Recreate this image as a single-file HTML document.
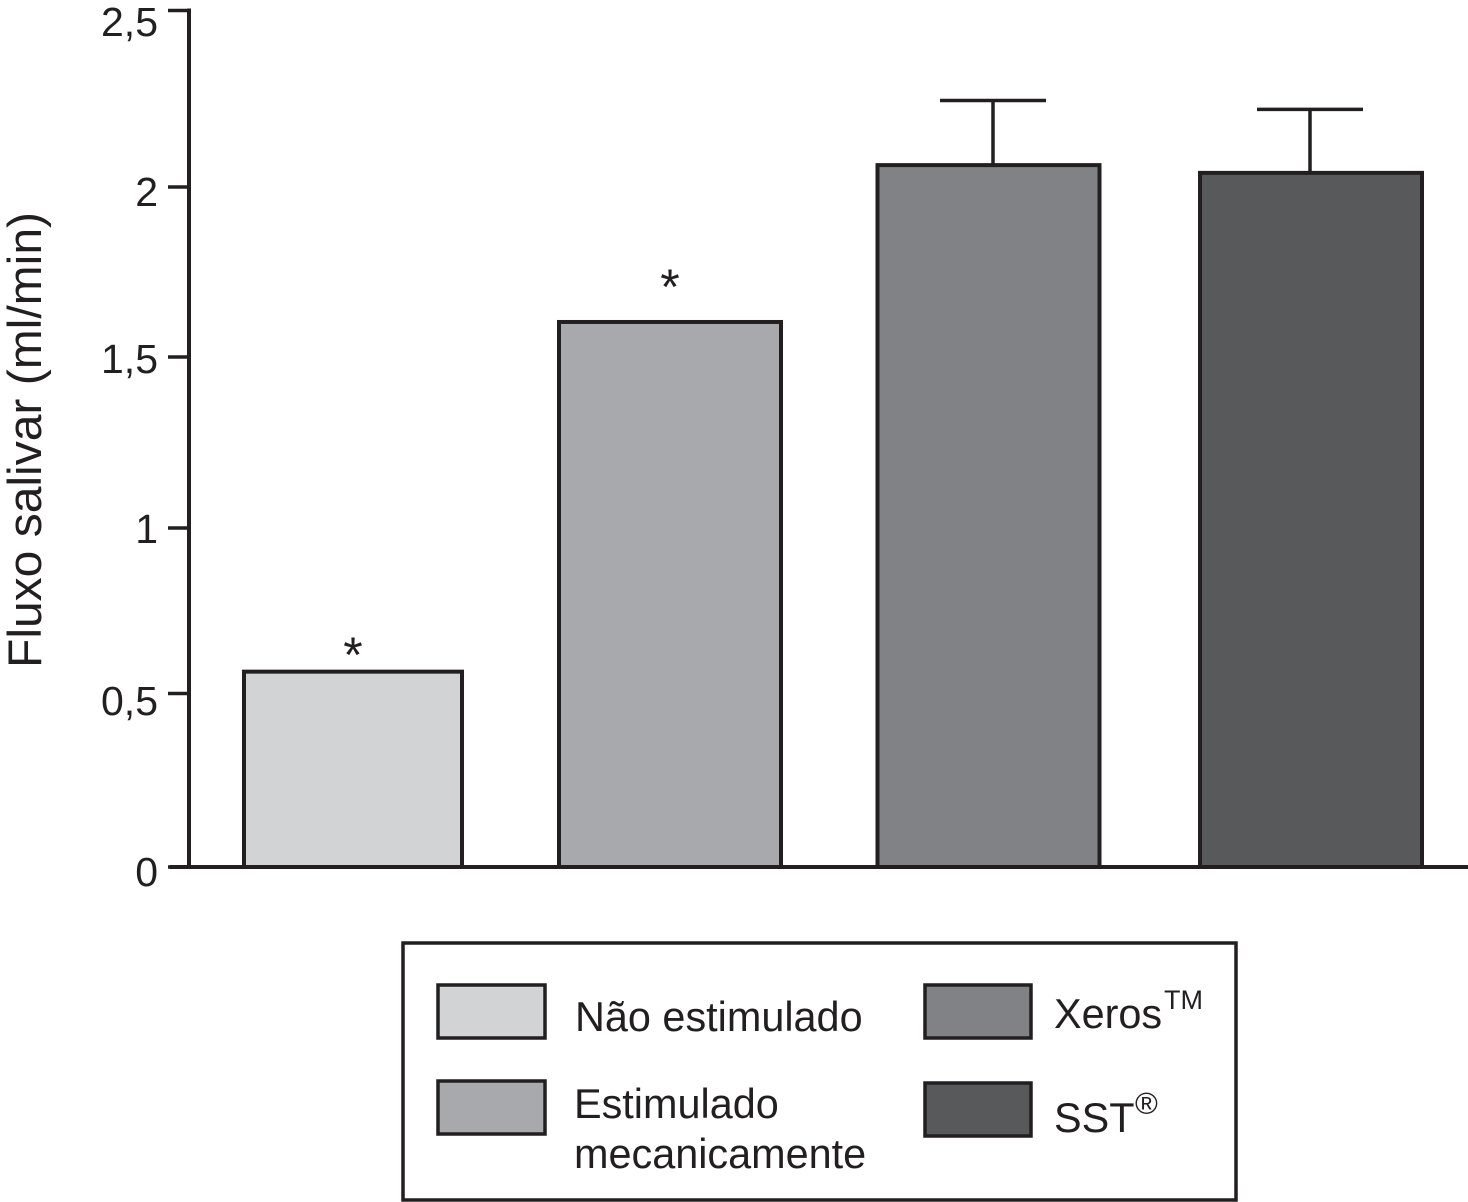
<!DOCTYPE html>
<html lang="pt">
<head>
<meta charset="utf-8">
<title>Fluxo salivar</title>
<style>
html,body{margin:0;padding:0;background:#fff;width:1468px;height:1202px;overflow:hidden}
svg{display:block}
text{font-family:"Liberation Sans",sans-serif;fill:#231f20}
</style>
</head>
<body>
<svg id="chart" xmlns="http://www.w3.org/2000/svg" width="1468" height="1202" viewBox="0 0 1468 1202">
  <g id="bars"></g>
  <g id="errors"></g>
  <g id="stars"></g>
  <g id="axis">
    <line x1="189" y1="8.5" x2="189" y2="867" stroke="#231f20" stroke-width="4"/>
    <line x1="170" y1="867" x2="1468" y2="867" stroke="#231f20" stroke-width="4"/>
  </g>
  <text transform="translate(41,668) rotate(-90)" font-size="47" textLength="456" lengthAdjust="spacingAndGlyphs">Fluxo salivar (ml/min)</text>

  <g>
    <rect x="403" y="943" width="833" height="257" fill="#fff" stroke="#231f20" stroke-width="3.5"/>
    <g>
      <rect x="438" y="985" width="107" height="53" fill="#d1d3d4" stroke="#231f20" stroke-width="3.5"/>
      <text x="575" y="1031" font-size="41.4">Não estimulado</text>
    </g>
    <g>
      <rect x="438" y="1081" width="107" height="53" fill="#a7a9ac" stroke="#231f20" stroke-width="3.5"/>
      <text x="574" y="1118" font-size="41.4">Estimulado</text>
      <text x="574" y="1168" font-size="41.4">mecanicamente</text>
    </g>
    <g>
      <rect x="925" y="985" width="106" height="53" fill="#808285" stroke="#231f20" stroke-width="3.5"/>
      <text x="1054" y="1028" font-size="41.4">Xeros</text>
      <text x="1164" y="1009" font-size="27">TM</text>
    </g>
    <g>
      <rect x="925" y="1083" width="106" height="53" fill="#58595b" stroke="#231f20" stroke-width="3.5"/>
      <text x="1054" y="1132" font-size="41.4">SST</text>
      <text x="1135" y="1114" font-size="31">®</text>
    </g>
  </g>
</svg>
<script>
const categories = ["Não estimulado", "Estimulado mecanicamente", "Xeros", "SST"];
const meanFlow = [0.566, 1.603, 2.062, 2.04];
const errorTop = [null, null, 2.245, 2.22];
const starLevel = [0.635, 1.723, null, null];
const tickValues = [0, 0.5, 1, 1.5, 2, 2.5];
const tickLabels = ["0", "0,5", "1", "1,5", "2", "2,5"];
const barColors = ["#d1d3d4", "#a7a9ac", "#808285", "#58595b"];

const NS = "http://www.w3.org/2000/svg";
const INK = "#231f20";

// The printed axis has slightly uneven tick spacing, so the scales are piecewise linear.
function piecewise(v, range) {
  const step = 0.5;
  const k = Math.max(0, Math.min(range.length - 2, Math.floor(v / step)));
  const t = (v - k * step) / step;
  return range[k] + t * (range[k + 1] - range[k]);
}
function yScale(v) { return piecewise(v, [867, 693.5, 528, 357, 187, 10.5]); }
function labelBaseline(v) { return piecewise(v, [886, 715, 543, 373, 206, 36]); }

// The printed bars are not evenly spaced either.
function xCenter(i) {
  const centers = [353, 670, 988.5, 1311];
  return centers[i];
}
function barWidth(i) { return i === 0 ? 218 : 222; }
function whiskerX(i) { return 993 + 317 * (i - 2); }

const CAP_HALF = 53;

function make(tag, attrs, parent) {
  const el = document.createElementNS(NS, tag);
  for (const k in attrs) el.setAttribute(k, attrs[k]);
  parent.appendChild(el);
  return el;
}

const barsG = document.getElementById("bars");
const errG = document.getElementById("errors");
const starG = document.getElementById("stars");
const axisG = document.getElementById("axis");

tickValues.forEach(function (v, i) {
  const tick = make("line", {x1: 168, x2: 189, y1: yScale(v), y2: yScale(v), stroke: INK, "stroke-width": 3.5}, axisG);
  
  
  const lab = make("text", {x: 158, y: labelBaseline(v), "text-anchor": "end", "font-size": 41}, axisG);
  lab.textContent = tickLabels[i];
  
  
});

categories.forEach(function (c, i) {
  const cx = xCenter(i);
  const w = barWidth(i);
  const top = yScale(meanFlow[i]);
  const bar = make("rect", {x: cx - w / 2, y: top, width: w, height: yScale(0) - top, fill: barColors[i], stroke: INK, "stroke-width": 4}, barsG);
  
  
  const tip = make("title", {}, bar);
  tip.textContent = c;

  if (errorTop[i] !== null) {
    const ey = yScale(errorTop[i]);
    const wx = whiskerX(i);
    const stem = make("line", {x1: wx, x2: wx, y1: top, y2: ey, stroke: INK, "stroke-width": 3.5}, errG);
    
    
    const cap = make("line", {x1: wx - CAP_HALF, x2: wx + CAP_HALF, y1: ey, y2: ey, stroke: INK, "stroke-width": 3.5}, errG);
    
    
  }
  if (starLevel[i] !== null) {
    const s = make("text", {x: cx, y: yScale(starLevel[i]) + 23, "text-anchor": "middle", "font-size": 50}, starG);
    s.textContent = "*";
    
    
  }
});
</script>
</body>
</html>
